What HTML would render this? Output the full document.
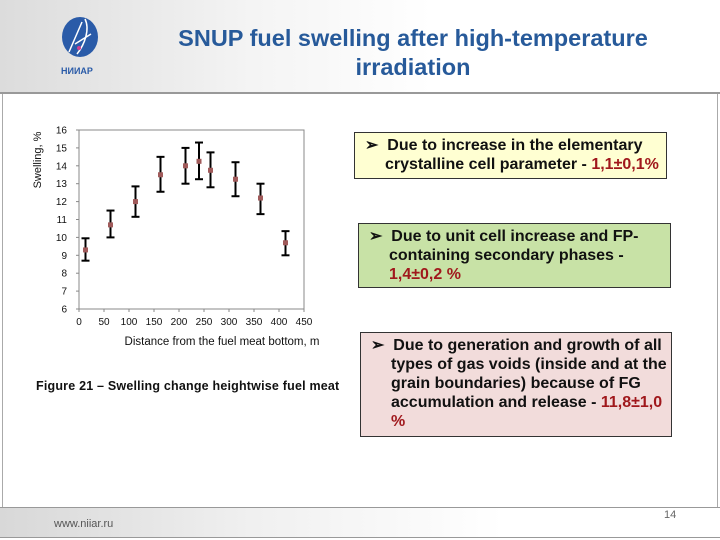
<!DOCTYPE html>
<html><head><meta charset="utf-8"><style>
*{margin:0;padding:0;box-sizing:border-box}
body{width:720px;height:540px;position:relative;background:#fff;font-family:"Liberation Sans",sans-serif;overflow:hidden}
.hdr{position:absolute;left:0;top:0;width:720px;height:94px;background:linear-gradient(90deg,#dcdcdc 0%,#f4f4f4 35%,#fff 60%);border-bottom:2px solid #999}
.ftr{position:absolute;left:0;top:507px;width:720px;height:31px;background:linear-gradient(90deg,#d8d8d8 0%,#f0f0f0 35%,#fff 70%);border-top:1px solid #999;border-bottom:1px solid #999}
.side{position:absolute;top:94px;height:414px;width:1px;background:#aaa}
.title{position:absolute;left:110px;width:606px;top:24px;text-align:center;color:#275a9a;font-weight:bold;font-size:23.5px;line-height:29px}
.box{position:absolute;border:1px solid #333;font-weight:bold;font-size:16px;line-height:19px;color:#111;padding:3px 4px 0 10px;white-space:nowrap}
.box .l{padding-left:20px;text-indent:-20px}
.r{color:#a0181c}
</style></head><body>
<div class="hdr"></div>
<div class="side" style="left:2px"></div>
<div class="side" style="left:717px"></div>
<svg style="position:absolute;left:55px;top:14px" width="60" height="70">
<ellipse cx="25" cy="23" rx="18" ry="20" fill="#2a5ba8"/>
<path d="M14 38 L27 8 M20 30 L36 20 M22 40 C 30 30 35 15 30 5" stroke="#fff" stroke-width="1.5" fill="none"/>
<circle cx="24" cy="34" r="2" fill="#d04090"/>
<text x="6" y="60" font-size="9" font-weight="bold" fill="#2a5ba8" font-family="Liberation Sans,sans-serif">НИИАР</text>
</svg>
<div class="title">SNUP fuel swelling after high-temperature<br>irradiation</div>
<svg id="chart" style="position:absolute;left:0;top:0" width="720" height="540"></svg>
<div style="position:absolute;left:36px;top:379px;font-size:12.5px;letter-spacing:0.2px;font-weight:bold;color:#111;white-space:nowrap">Figure 21 – Swelling change heightwise fuel meat</div>
<div class="box" style="left:354px;top:132px;width:313px;height:47px;background:#ffffd2"><div class="l">➢&nbsp; Due to increase in the elementary<br>crystalline cell parameter - <span class="r">1,1±0,1%</span></div></div>
<div class="box" style="left:358px;top:223px;width:313px;height:65px;background:#c8e2a6"><div class="l">➢&nbsp; Due to unit cell increase and FP-<br>containing secondary phases -<br><span class="r">1,4±0,2 %</span></div></div>
<div class="box" style="left:360px;top:332px;width:312px;height:105px;background:#f2dcdb"><div class="l">➢&nbsp; Due to generation and growth of all<br>types of gas voids (inside and at the<br>grain boundaries) because of FG<br>accumulation and release - <span class="r">11,8±1,0<br>%</span></div></div>
<div class="ftr"></div>
<div style="position:absolute;left:54px;top:518px;font-size:11px;color:#555">www.niiar.ru</div>
<div style="position:absolute;left:664px;top:509px;font-size:11px;color:#666">14</div>
<script>
const xs=[13,63,113,163,213,240,263,313,363,413];
const ys=[9.3,10.7,12.0,13.5,14.0,14.25,13.75,13.25,12.2,9.7];
const hi=[9.95,11.5,12.85,14.5,15.0,15.3,14.75,14.2,13.0,10.35];
const lo=[8.7,10.0,11.15,12.55,13.0,13.25,12.8,12.3,11.3,9.0];
const yTicks=[6,7,8,9,10,11,12,13,14,15,16];
const xTicks=[0,50,100,150,200,250,300,350,400,450];
const X0=79,X1=304,Y0=309,Y1=130;
const sx=v=>X0+(v-0)/450*(X1-X0), sy=v=>Y0-(v-6)/10*(Y0-Y1);
const svg=document.getElementById('chart');const NS='http://www.w3.org/2000/svg';
function mk(t,a,txt){const e=document.createElementNS(NS,t);for(const k in a)e.setAttribute(k,a[k]);if(txt!=null)e.textContent=txt;svg.appendChild(e);return e;}
let e=mk('rect',{x:X0,y:Y1,width:X1-X0,height:Y0-Y1,fill:'none',stroke:'#888','stroke-width':1});


yTicks.forEach(v=>{const t=mk('text',{x:X0-12,y:sy(v)+3.5,'font-size':10,'text-anchor':'end',fill:'#111','font-family':'Liberation Sans,sans-serif'},v);


mk('line',{x1:X0-3,x2:X0,y1:sy(v),y2:sy(v),stroke:'#888'});});
xTicks.forEach(v=>{const t=mk('text',{x:sx(v),y:Y0+16,'font-size':10,'text-anchor':'middle',fill:'#111','font-family':'Liberation Sans,sans-serif'},v);


mk('line',{x1:sx(v),x2:sx(v),y1:Y0,y2:Y0+3,stroke:'#888'});});
e=mk('text',{x:222,y:345,'font-size':11.5,'text-anchor':'middle',fill:'#111','font-family':'Liberation Sans,sans-serif'},'Distance from the fuel meat bottom, m');


e=mk('text',{x:0,y:0,'font-size':11,'text-anchor':'middle',fill:'#111','font-family':'Liberation Sans,sans-serif',transform:'translate(41,160) rotate(-90)'},'Swelling, %');


xs.forEach((x,i)=>{const px=sx(x);
const g=mk('g',{});


[['line',{x1:px,x2:px,y1:sy(hi[i]),y2:sy(lo[i])}],['line',{x1:px-4,x2:px+4,y1:sy(hi[i]),y2:sy(hi[i])}],['line',{x1:px-4,x2:px+4,y1:sy(lo[i]),y2:sy(lo[i])}]].forEach(([t,a])=>{const l=document.createElementNS(NS,t);for(const k in a)l.setAttribute(k,a[k]);l.setAttribute('stroke','#000');l.setAttribute('stroke-width',2);g.appendChild(l);});
const p=mk('rect',{x:px-2.5,y:sy(ys[i])-2.5,width:5,height:5,fill:'#a05a5a'});


});
</script>
</body></html>
